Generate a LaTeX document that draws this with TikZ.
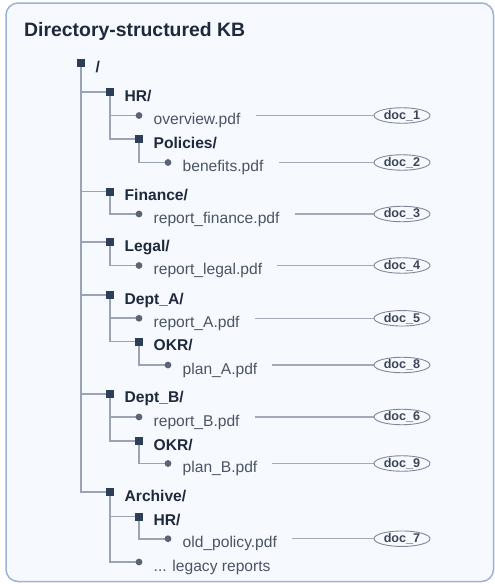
\documentclass[tikz,border=0pt]{standalone}
\usepackage{fontspec}
\setmainfont{Liberation Sans}
\usetikzlibrary{shapes.geometric,calc}
\definecolor{bgc}{HTML}{F6F9FE}
\definecolor{framec}{HTML}{9BB2D6}
\definecolor{dirc}{HTML}{2C3E58}
\definecolor{filec}{HTML}{5B6474}
\definecolor{treec}{HTML}{9AA4B4}
\definecolor{dirtxt}{HTML}{1E293B}
\definecolor{filetxt}{HTML}{4B5563}
\definecolor{docline}{HTML}{A3ABB8}
\definecolor{docdraw}{HTML}{7F8898}
\definecolor{doctxt}{HTML}{3D4656}
\pgfdeclarelayer{frame}
\pgfdeclarelayer{bg}
\pgfsetlayers{frame,bg,main}
\begin{document}
\begin{tikzpicture}[x=1pt,y=-1pt,
 dirmark/.style={rectangle, fill=dirc, minimum size=8pt, inner sep=0pt},
 filemark/.style={circle, fill=filec, minimum size=6.8pt, inner sep=0pt},
 dirlabel/.style={anchor=base west, inner sep=0pt, xshift=14.5pt, yshift=-9pt, font=\fontsize{15.6}{18}\selectfont\bfseries, text=dirtxt},
 filelabel/.style={anchor=base west, inner sep=0pt, xshift=14.5pt, yshift=-9pt, font=\fontsize{15.6}{18}\selectfont, text=filetxt},
 branch/.style={draw=treec, line width=1.9pt},
 docnode/.style={ellipse, draw=docdraw, line width=0.9pt, fill=bgc, minimum width=56pt, minimum height=15.5pt, inner sep=0pt, font=\fontsize{12.6}{14}\selectfont\bfseries, text=doctxt},
 doclink/.style={draw=docline, line width=1.1pt}]
\useasboundingbox (0,0) rectangle (495,584);
\begin{pgfonlayer}{frame}
\draw[draw=framec, line width=1.5pt, fill=bgc, rounded corners=12pt] (6,3) rectangle (493.5,581.5);
\end{pgfonlayer}
\node[anchor=base west, inner sep=0pt, font=\fontsize{19.4}{22}\selectfont\bfseries, text=dirtxt] (title) at (24,36) {Directory-structured KB};

% markers
\node[dirmark]  (root) at (81,63) {};
\node[dirmark]  (hr)   at (110,92) {};
\node[filemark] (ov)   at (139,115.5) {};
\node[dirmark]  (pol)  at (139,139) {};
\node[filemark] (ben)  at (168,162.5) {};
\node[dirmark]  (fin)  at (110,191.5) {};
\node[filemark] (rf)   at (139,214) {};
\node[dirmark]  (leg)  at (110,242) {};
\node[filemark] (rl)   at (139,265.5) {};
\node[dirmark]  (da)   at (110,295) {};
\node[filemark] (ra)   at (139,318.3) {};
\node[dirmark]  (okra) at (139,341.5) {};
\node[filemark] (pa)   at (168,365) {};
\node[dirmark]  (db)   at (110,393.7) {};
\node[filemark] (rb)   at (139,417) {};
\node[dirmark]  (okrb) at (139,441) {};
\node[filemark] (pb)   at (168,463.5) {};
\node[dirmark]  (arc)  at (110,492.3) {};
\node[dirmark]  (ahr)  at (139,516.5) {};
\node[filemark] (op)   at (168,538.7) {};
\node[filemark] (lr)   at (139,562) {};

% labels
\node[dirlabel]  (root-l) at (root) {/};
\node[dirlabel]  (hr-l)   at (hr) {HR/};
\node[filelabel] (ov-l)   at (ov) {overview.pdf};
\node[dirlabel]  (pol-l)  at (pol) {Policies/};
\node[filelabel] (ben-l)  at (ben) {benefits.pdf};
\node[dirlabel]  (fin-l)  at (fin) {Finance/};
\node[filelabel] (rf-l)   at (rf) {report\_finance.pdf};
\node[dirlabel]  (leg-l)  at (leg) {Legal/};
\node[filelabel] (rl-l)   at (rl) {report\_legal.pdf};
\node[dirlabel]  (da-l)   at (da) {Dept\_A/};
\node[filelabel] (ra-l)   at (ra) {report\_A.pdf};
\node[dirlabel]  (okra-l) at (okra) {OKR/};
\node[filelabel] (pa-l)   at (pa) {plan\_A.pdf};
\node[dirlabel]  (db-l)   at (db) {Dept\_B/};
\node[filelabel] (rb-l)   at (rb) {report\_B.pdf};
\node[dirlabel]  (okrb-l) at (okrb) {OKR/};
\node[filelabel] (pb-l)   at (pb) {plan\_B.pdf};
\node[dirlabel]  (arc-l)  at (arc) {Archive/};
\node[dirlabel]  (ahr-l)  at (ahr) {HR/};
\node[filelabel] (op-l)   at (op) {old\_policy.pdf};
\node[filelabel] (lr-l)   at (lr) {... legacy reports};

% doc ellipses
\node[docnode] (d1) at (402,115.5) {doc\_1};
\node[docnode] (d2) at (402,162.5) {doc\_2};
\node[docnode] (d3) at (402,214) {doc\_3};
\node[docnode] (d4) at (402,265.5) {doc\_4};
\node[docnode] (d5) at (402,318.3) {doc\_5};
\node[docnode] (d8) at (402,365) {doc\_8};
\node[docnode] (d6) at (402,417) {doc\_6};
\node[docnode] (d9) at (402,463.5) {doc\_9};
\node[docnode] (d7) at (402,538.7) {doc\_7};

\begin{pgfonlayer}{bg}
% tree
\foreach \p/\c in {root/hr,root/fin,root/leg,root/da,root/db,root/arc,
  hr/ov,hr/pol,pol/ben,fin/rf,leg/rl,da/ra,da/okra,okra/pa,
  db/rb,db/okrb,okrb/pb,arc/ahr,arc/lr,ahr/op}
  \draw[branch] (\p.center) |- (\c.center);
% doc links
\foreach \f/\d in {ov/d1,ben/d2,rf/d3,rl/d4,ra/d5,pa/d8,rb/d6,pb/d9,op/d7}
  \draw[doclink] ($(\f-l.east |- \d.west)+(15,0)$) -- (\d.west);
\end{pgfonlayer}
\end{tikzpicture}
\end{document}
